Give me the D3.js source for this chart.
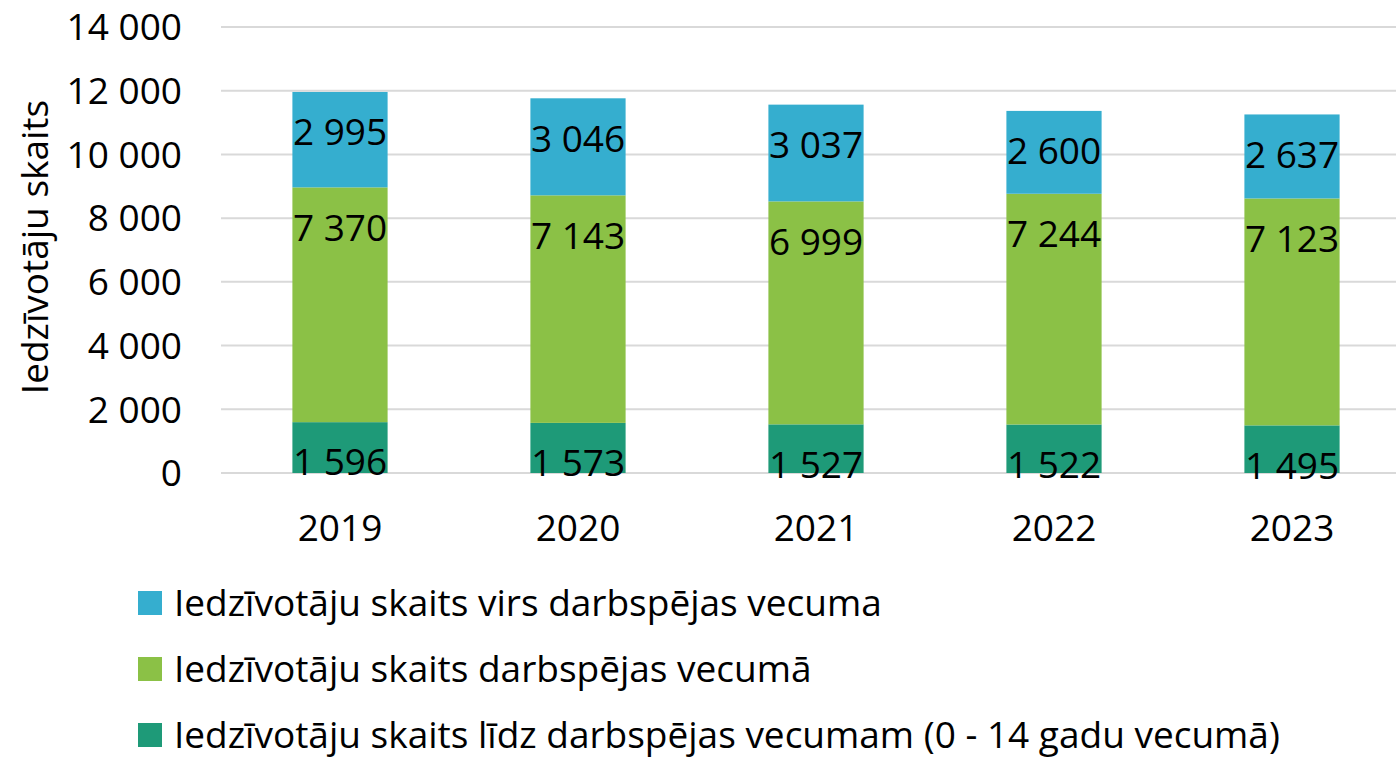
<!DOCTYPE html>
<html>
<head>
<meta charset="utf-8">
<script src="https://cdn.jsdelivr.net/npm/d3@7.9.0/dist/d3.min.js"></script>
<style>
  body { margin: 0; background: #fff; }
  svg { display: block; font-family: 'Open Sans', sans-serif; }
</style>
</head>
<body>
<svg id="chart" width="1396" height="758"></svg>
<script>
const years = ['2019', '2020', '2021', '2022', '2023'];
const under = [1596, 1573, 1527, 1522, 1495];
const working = [7370, 7143, 6999, 7244, 7123];
const over = [2995, 3046, 3037, 2600, 2637];
const yTicks = [0, 2000, 4000, 6000, 8000, 10000, 12000, 14000];

const seriesNames = [
  'Iedzīvotāju skaits līdz darbspējas vecumam (0 - 14 gadu vecumā)',
  'Iedzīvotāju skaits darbspējas vecumā',
  'Iedzīvotāju skaits virs darbspējas vecuma'
];
const colors = ['#1e9a78', '#8bc146', '#35aecf'];

const svg = d3.select('#chart');
const fmt = (v) => d3.format(',')(v).replace(/,/g, ' ');

const x = d3.scaleBand().domain(years).range([221, 1411]).paddingInner(0.6).paddingOuter(0.3);
const y = d3.scaleLinear().domain([0, 14000]).range([473, 27]);

// gridlines
svg.append('g')
  .selectAll('line')
  .data(yTicks)
  .join('line')
  .attr('x1', 221).attr('x2', 1396)
  .attr('y1', (d) => y(d)).attr('y2', (d) => y(d))
  .attr('stroke', '#d9d9d9').attr('stroke-width', 2);

// y tick labels
svg.append('g')
  .selectAll('text')
  .data(yTicks)
  .join('text')
  .attr('x', 182)
  .attr('y', (d) => y(d))
  .attr('dy', '0.36em')
  .attr('text-anchor', 'end')
  .attr('font-size', 37)
  .text((d) => fmt(d));

// y title
svg.append('text')
  .attr('transform', 'translate(35,247) rotate(-90)')
  .attr('text-anchor', 'middle')
  .attr('dy', '0.36em')
  .attr('font-size', 37)
  .text('Iedzīvotāju skaits');

const table = years.map((yr, i) => ({ year: yr, under: under[i], working: working[i], over: over[i] }));
const stack = d3.stack().keys(['under', 'working', 'over'])(table);

stack.forEach((layer, li) => {
  const g = svg.append('g');
  g.selectAll('rect')
    .data(layer)
    .join('rect')
    .attr('x', (d) => x(d.data.year))
    .attr('width', x.bandwidth())
    .attr('y', (d) => y(d[1]))
    .attr('height', (d) => y(d[0]) - y(d[1]))
    .attr('fill', colors[li]);
});

stack.forEach((layer) => {
  svg.append('g')
    .selectAll('text')
    .data(layer)
    .join('text')
    .attr('x', (d) => x(d.data.year) + x.bandwidth() / 2)
    .attr('y', (d) => y(d[1]) + 40)
    .attr('dy', '0.36em')
    .attr('text-anchor', 'middle')
    .attr('font-size', 37)
    .text((d) => fmt(d[1] - d[0]));
});

// x labels
svg.append('g')
  .selectAll('text')
  .data(years)
  .join('text')
  .attr('x', (d) => x(d) + x.bandwidth() / 2)
  .attr('y', 528)
  .attr('dy', '0.36em')
  .attr('text-anchor', 'middle')
  .attr('font-size', 37)
  .text((d) => d);

// legend
const legendOrder = [2, 1, 0];
const legend = svg.append('g')
  .selectAll('g')
  .data(legendOrder)
  .join('g')
  .attr('transform', (d, i) => `translate(138,${603 + i * 66})`);
legend.append('rect')
  .attr('x', 0).attr('y', -12).attr('width', 24).attr('height', 24)
  .attr('fill', (d) => colors[d]);
legend.append('text')
  .attr('x', 36)
  .attr('dy', '0.36em')
  .attr('font-size', 37)
  .text((d) => seriesNames[d]);
</script>
</body>
</html>
